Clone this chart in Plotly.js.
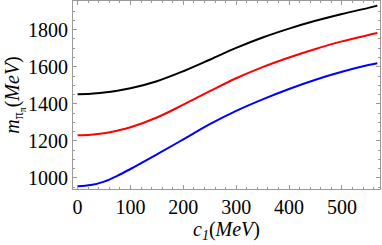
<!DOCTYPE html>
<html>
<head>
<meta charset="utf-8">
<script src="https://cdn.plot.ly/plotly-3.0.1.min.js"></script>
<style>html,body{margin:0;padding:0;background:#fff;}#chart{width:382px;height:245px;}</style>
</head>
<body>
<div id="chart"></div>
<script>
const c1 = [0, 25, 50, 75, 100, 150, 200, 250, 300, 350, 400, 450, 500, 550, 567];
const blackSeries = [1452, 1454, 1461, 1471, 1484, 1522, 1576, 1638, 1702, 1758, 1806, 1848, 1885, 1918, 1930];
const redSeries = [1230, 1233, 1241, 1255, 1273, 1326, 1395, 1468, 1538, 1598, 1650, 1696, 1737, 1771, 1782];
const blueSeries = [955, 961, 980, 1011, 1048, 1127, 1208, 1290, 1362, 1424, 1480, 1530, 1573, 1609, 1619];
const xTicks = [0, 100, 200, 300, 400, 500];
const yTicks = [1000, 1200, 1400, 1600, 1800];

const mk = (y, color) => ({
  x: c1, y: y, type: 'scatter', mode: 'lines',
  line: {color: color, width: 2, shape: 'spline', smoothing: 1},
  hoverinfo: 'skip', showlegend: false
});

const font = {family: 'Liberation Serif', size: 20, color: '#000'};
const tfont = {family: 'Liberation Serif', size: 20, color: '#000'};

const layout = {
  width: 382, height: 245,
  margin: {l: 73, r: 2, t: 1, b: 56},
  paper_bgcolor: '#fff', plot_bgcolor: '#fff',
  font: font,
  xaxis: {
    range: [-8.7, 572], showgrid: false, zeroline: false,
    showline: true, linecolor: '#999', linewidth: 1, mirror: 'ticks',
    ticks: 'inside', ticklen: 4, tickcolor: '#999',
    tickvals: xTicks, ticktext: xTicks.map(String),
    minor: {dtick: 20, tick0: 0, ticks: 'inside', ticklen: 2, tickcolor: '#999'},
    tickfont: font,
    title: {text: '<i>c</i><sub><i>1</i></sub>(<i>MeV</i>)', font: tfont, standoff: 2}
  },
  yaxis: {
    range: [940, 1955], showgrid: false, zeroline: false,
    showline: true, linecolor: '#999', linewidth: 1, mirror: 'ticks',
    ticks: 'inside', ticklen: 4, tickcolor: '#999',
    tickvals: yTicks, ticktext: yTicks.map(String),
    minor: {dtick: 50, tick0: 0, ticks: 'inside', ticklen: 2, tickcolor: '#999'},
    tickfont: font,
    title: {text: '<i>m</i><sub>π<sub>π</sub></sub>(<i>MeV</i>)', font: tfont, standoff: 1}
  }
};

Plotly.newPlot('chart', [mk(blackSeries, '#000'), mk(redSeries, '#ff0000'), mk(blueSeries, '#0000ff')], layout, {staticPlot: true, displayModeBar: false});
</script>
</body>
</html>
